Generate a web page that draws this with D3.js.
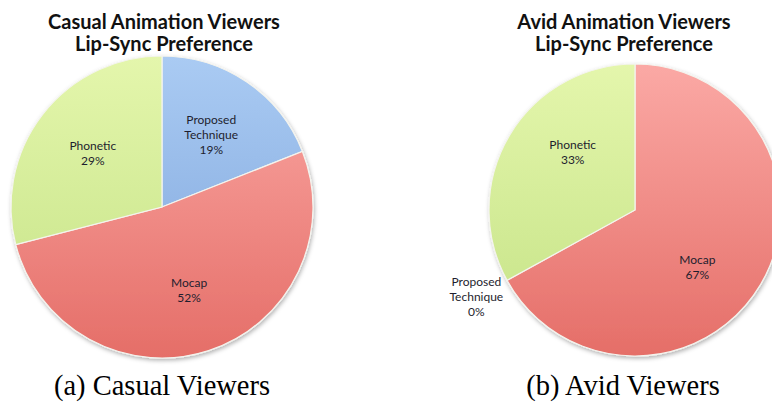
<!DOCTYPE html>
<html>
<head>
<meta charset="utf-8">
<script src="https://cdn.jsdelivr.net/npm/d3@7"></script>
<style>
  body { margin: 0; background: #fff; }
  svg { display: block; }
</style>
</head>
<body>
<svg id="chart"></svg>
<script>
// data
const casualLabels = ["Proposed Technique", "Mocap", "Phonetic"];
const casualValues = [19, 52, 29];
const avidLabels = ["Mocap", "Proposed Technique", "Phonetic"];
const avidValues = [67, 0, 33];
const titles = [["Casual Animation Viewers", "Lip-Sync Preference"], ["Avid Animation Viewers", "Lip-Sync Preference"]];
const captions = ["(a) Casual Viewers", "(b) Avid Viewers"];

const W = 772, H = 404;
const svg = d3.select("#chart").attr("width", W).attr("height", H);

const colors = {
  "Proposed Technique": ["#aacbf3", "#7ca3da"],
  "Mocap": ["#fba9a5", "#e56e68"],
  "Phonetic": ["#e4f6ac", "#c4e285"]
};

const defs = svg.append("defs");
const shadow = defs.append("filter").attr("id", "shadow")
  .attr("x", "-10%").attr("y", "-10%").attr("width", "120%").attr("height", "120%");
shadow.append("feDropShadow").attr("dx", 1).attr("dy", 2).attr("stdDeviation", 2)
  .attr("flood-color", "#000").attr("flood-opacity", 0.3);

// labelTurn: extra angle (radians) for the inside labels, as the original tool placed them
function drawPie(idx, labels, values, cx, cy, r, labelTurn) {
  const g = svg.append("g").attr("transform", `translate(${cx},${cy})`);

  labels.forEach(l => {
    const gr = defs.append("linearGradient")
      .attr("id", `grad${idx}-${l.replace(/\s/g, "")}`)
      .attr("gradientUnits", "userSpaceOnUse")
      .attr("x1", 0).attr("y1", -r).attr("x2", 0).attr("y2", r);
    gr.append("stop").attr("offset", "0%").attr("stop-color", colors[l][0]);
    gr.append("stop").attr("offset", "100%").attr("stop-color", colors[l][1]);
  });

  const data = labels.map((l, i) => ({ label: l, value: values[i] }));
  const pie = d3.pie().sort(null).value(d => d.value);
  const arcs = pie(data);
  const arc = d3.arc().innerRadius(0).outerRadius(r);
  const labelArc = d3.arc().innerRadius(r * 0.58).outerRadius(r * 0.58);
  const outArc = d3.arc().innerRadius(r * 1.24).outerRadius(r * 1.24);

  g.append("g").attr("filter", "url(#shadow)")
    .selectAll("path")
    .data(arcs.filter(d => d.data.value > 0))
    .join("path")
    .attr("d", arc)
    .attr("fill", d => `url(#grad${idx}-${d.data.label.replace(/\s/g, "")})`)
    .attr("stroke", "#f4f4ee")
    .attr("stroke-width", 1.2);

  const pos = d => {
    if (d.data.value === 0) return outArc.centroid(d);
    return labelArc.centroid({ startAngle: d.startAngle + labelTurn, endAngle: d.endAngle + labelTurn });
  };

  const txt = g.selectAll("text.lbl")
    .data(arcs)
    .join("text")
    .attr("class", "lbl")
    .attr("transform", d => `translate(${pos(d)})`)
    .attr("text-anchor", "middle")
    .attr("font-family", "Lato, 'Open Sans', sans-serif")
    .attr("font-size", 12)
    .attr("fill", "#1e1e2e");

  txt.each(function(d) {
    const lines = d.data.label.split(" ").concat([d.data.value + "%"]);
    const n = lines.length;
    d3.select(this).selectAll("tspan")
      .data(lines)
      .join("tspan")
      .attr("x", 0)
      .attr("y", (l, i) => (i - (n - 1) / 2) * 15 + 4)
      .text(l => l);
  });
}

function drawTitle(lines, cx) {
  svg.append("text")
    .attr("x", cx).attr("y", 29)
    .attr("text-anchor", "middle")
    .attr("font-family", "Lato, 'Open Sans', sans-serif")
    .attr("font-weight", "bold")
    .attr("font-size", 20)
    .attr("fill", "#111")
    .selectAll("tspan")
    .data(lines)
    .join("tspan")
    .attr("x", cx)
    .attr("dy", (d, i) => i === 0 ? 0 : 22)
    .text(d => d);
}

function drawCaption(t, cx) {
  svg.append("text")
    .attr("x", cx).attr("y", 395)
    .attr("text-anchor", "middle")
    .attr("font-family", "'Liberation Serif', 'Times New Roman', serif")
    .attr("font-size", 28.5)
    .attr("fill", "#000")
    .text(t);
}

drawPie(0, casualLabels, casualValues, 162, 207, 151, 0);
drawPie(1, avidLabels, avidValues, 635, 210, 146, 0.21);
drawTitle(titles[0], 164);
drawTitle(titles[1], 624);
drawCaption(captions[0], 162);
drawCaption(captions[1], 623);
</script>
</body>
</html>
